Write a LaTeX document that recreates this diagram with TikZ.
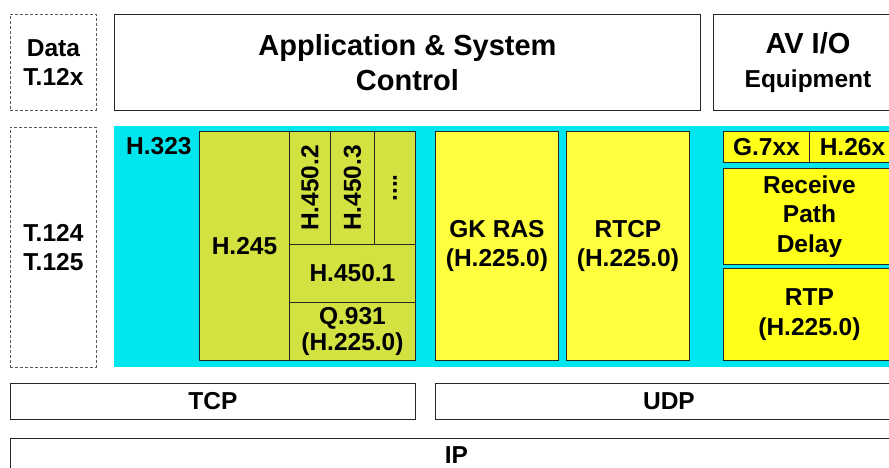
\documentclass[tikz,border=0pt]{standalone}
\usepackage{fontspec}
\setmainfont{Liberation Sans}
\definecolor{cyanbg}{HTML}{00E6EE}
\definecolor{olive}{HTML}{D4E241}
\definecolor{ylight}{HTML}{FFFF40}
\definecolor{ystrong}{HTML}{FFFF1A}
\begin{document}
\begin{tikzpicture}[x=1pt,y=-1pt,
  lbl/.style={font=\bfseries\fontsize{24.5}{29.5}\selectfont, align=center},
  big/.style={font=\bfseries\fontsize{29}{35}\selectfont, align=center},
  blk/.style={draw=black!85, line width=0.9pt, inner sep=0pt, anchor=north west, lbl},
  dbox/.style={draw=black!65, dashed, dash pattern=on 3pt off 2pt, line width=0.8pt, inner sep=0pt, anchor=north west, lbl},
]
\useasboundingbox (0,0) rectangle (889,468);
\clip (0,0) rectangle (889,468);
% top row
\node[dbox, minimum width=86, minimum height=96] (data) at (10,14) {Data\\T.12x};
\node[blk, big, minimum width=586, minimum height=96] (app) at (114,14) {Application \& System\\Control};
\node[blk, minimum width=189, minimum height=96] (avio) at (713,14) {{\fontsize{29}{35}\selectfont AV I/O}\\[4pt]Equipment};
% left dashed
\node[dbox, minimum width=86, minimum height=240] (t124) at (10,127) {T.124\\T.125};
% cyan background
\node[fill=cyanbg, inner sep=0pt, anchor=north west, minimum width=796, minimum height=241] (h323bg) at (114,126) {};
\node[lbl, anchor=base west, inner sep=0pt] (h323) at (126,155) {H.323};
% H.245 group
\node[blk, fill=olive, minimum width=90, minimum height=229] (h245) at (199,131) {H.245};
\node[blk, fill=olive, minimum width=41, minimum height=113] (h4502) at (289,131) {};
\node[lbl, rotate=90] (h4502t) at (h4502.center) {H.450.2};
\node[blk, fill=olive, minimum width=44, minimum height=113] (h4503) at (330,131) {};
\node[lbl, rotate=90] (h4503t) at (h4503.center) {H.450.3};
\node[blk, fill=olive, minimum width=41, minimum height=113] (hdots) at (374,131) {};
\node[lbl, rotate=90] (hdotst) at (hdots.center) {....};
\node[blk, fill=olive, minimum width=126, minimum height=58] (h4501) at (289,244) {H.450.1};
\node[blk, fill=olive, minimum width=126, minimum height=58] (q931) at (289,302) {Q.931\\[-3pt](H.225.0)};
% GK RAS, RTCP
\node[blk, fill=ylight, minimum width=123, minimum height=229] (gkras) at (435,131) {GK RAS\\(H.225.0)};
\node[blk, fill=ylight, minimum width=123, minimum height=229] (rtcp) at (566,131) {RTCP\\(H.225.0)};
% media
\node[blk, fill=ystrong, minimum width=86, minimum height=31] (g7xx) at (723,131) {G.7xx};
\node[blk, fill=ystrong, minimum width=86, minimum height=31] (h26x) at (809,131) {H.26x};
\node[blk, fill=ystrong, minimum width=172, minimum height=96] (rpd) at (723,168) {Receive\\Path\\Delay};
\node[blk, fill=ystrong, minimum width=172, minimum height=92] (rtp) at (723,268) {RTP\\(H.225.0)};
% transport
\node[blk, minimum width=405, minimum height=36] (tcp) at (10,383) {TCP};
\node[blk, minimum width=467, minimum height=36] (udp) at (435,383) {UDP};
\node[blk, minimum width=892, minimum height=34] (ip) at (10,438) {IP};
\end{tikzpicture}
\end{document}
